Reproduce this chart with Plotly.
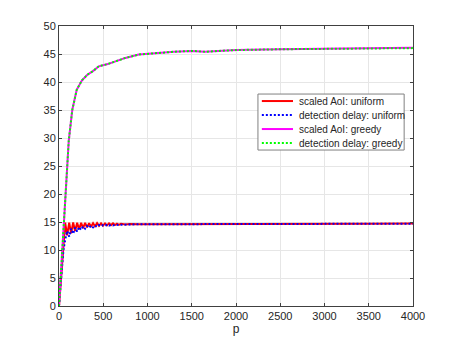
import plotly.graph_objects as go

# uniform policy, sampled finely where it oscillates
p_uniform = [0, 25, 50, 70, 92, 115, 137, 160, 182, 205, 227, 250, 272, 295, 317,
             340, 362, 385, 407, 430, 452, 475, 497, 520, 542, 565, 587, 610, 632,
             655, 677, 700, 750, 800, 900, 1000, 1200, 1500, 2000, 2500, 3000, 3500, 4000]
aoi_uniform = [0, 6.0, 12.0, 14.9, 12.6, 14.9, 13.0, 14.9, 13.4, 14.85, 13.7, 14.85, 13.9,
               14.85, 14.05, 14.8, 14.15, 14.8, 14.25, 14.8, 14.3, 14.75, 14.35, 14.75, 14.4,
               14.75, 14.45, 14.75, 14.45, 14.7, 14.5, 14.7, 14.55, 14.65, 14.6, 14.6, 14.65,
               14.65, 14.65, 14.7, 14.7, 14.7, 14.75]
delay_uniform = [0, 5.0, 10.0, 11.8, 13.4, 12.4, 13.8, 12.9, 14.0, 13.3, 14.1, 13.6, 14.2,
                 13.8, 14.3, 13.95, 14.35, 14.05, 14.4, 14.15, 14.45, 14.25, 14.45, 14.3, 14.5,
                 14.35, 14.5, 14.4, 14.5, 14.45, 14.55, 14.5, 14.55, 14.55, 14.6, 14.6, 14.6,
                 14.6, 14.65, 14.65, 14.65, 14.7, 14.7]

# greedy policy
p_greedy = [0, 20, 50, 80, 110, 150, 200, 260, 320, 380, 450, 550, 650, 750, 900,
            1100, 1300, 1500, 1650, 1800, 2000, 2500, 3000, 3500, 4000]
aoi_greedy = [0, 5.5, 13.5, 22.5, 29.5, 35.0, 38.6, 40.3, 41.3, 41.9, 42.8, 43.2, 43.7,
              44.3, 44.9, 45.2, 45.4, 45.55, 45.4, 45.55, 45.7, 45.85, 45.95, 46.0, 46.1]
delay_greedy = [0, 5.5, 13.5, 22.5, 29.5, 35.0, 38.6, 40.3, 41.3, 41.9, 42.8, 43.2, 43.7,
                44.3, 44.9, 45.2, 45.4, 45.55, 45.4, 45.55, 45.7, 45.85, 45.95, 46.0, 46.05]

x_ticks = [0, 500, 1000, 1500, 2000, 2500, 3000, 3500, 4000]
y_ticks = [0, 5, 10, 15, 20, 25, 30, 35, 40, 45, 50]

names = ['scaled AoI: uniform', 'detection delay: uniform',
         'scaled AoI: greedy', 'detection delay: greedy']
colors = ['#ff0000', '#0000ff', '#ff00ff', '#00ff00']
dashes = ['solid', '2px,2px', 'solid', '2px,2px']
series = [(p_uniform, aoi_uniform), (p_uniform, delay_uniform),
          (p_greedy, aoi_greedy), (p_greedy, delay_greedy)]

fig = go.Figure()
for (xs, ys), name, c, d in zip(series, names, colors, dashes):
    fig.add_trace(go.Scatter(x=xs, y=ys, mode='lines', name=name,
                             line=dict(color=c, width=2, dash=d)))

# matlab-style compact legend box, drawn in paper coords
lx0, lx1, ly0, ly1 = 0.562, 0.975, 0.557, 0.757
fig.add_shape(type='rect', xref='paper', yref='paper', x0=lx0, x1=lx1, y0=ly0, y1=ly1,
              line=dict(color='#808080', width=1), fillcolor='white', layer='above')
row_y = [0.732, 0.682, 0.632, 0.582]
for ry, name, c, d in zip(row_y, names, colors, dashes):
    fig.add_shape(type='line', xref='paper', yref='paper', x0=0.573, x1=0.661, y0=ry, y1=ry,
                  line=dict(color=c, width=2, dash=d), layer='above')
    fig.add_annotation(xref='paper', yref='paper', x=0.672, y=ry, text=name,
                       showarrow=False, xanchor='left', yanchor='middle',
                       font=dict(size=10, color='#262626'))

axis_style = dict(showgrid=True, gridcolor='#e6e6e6', gridwidth=1,
                  showline=True, linecolor='#404040', linewidth=1, mirror='ticks',
                  ticks='inside', ticklen=3, tickcolor='#404040', automargin=False,
                  zeroline=False, tickfont=dict(size=11, color='#262626'))

# page body adds an 8px offset, so the figure is shrunk by that much
fig.update_layout(
    width=449, height=335,
    margin=dict(l=51, r=44, t=18, b=37),
    paper_bgcolor='white', plot_bgcolor='white',
    font=dict(family='Liberation Sans, Arial, sans-serif', color='#262626'),
    showlegend=False,
)
fig.update_xaxes(range=[0, 4000], tickvals=x_ticks,
                 title=dict(text='p', font=dict(size=12, color='#262626'), standoff=2),
                 **axis_style)
fig.update_yaxes(range=[0, 50], tickvals=y_ticks, **axis_style)

fig.write_html("out.html")
